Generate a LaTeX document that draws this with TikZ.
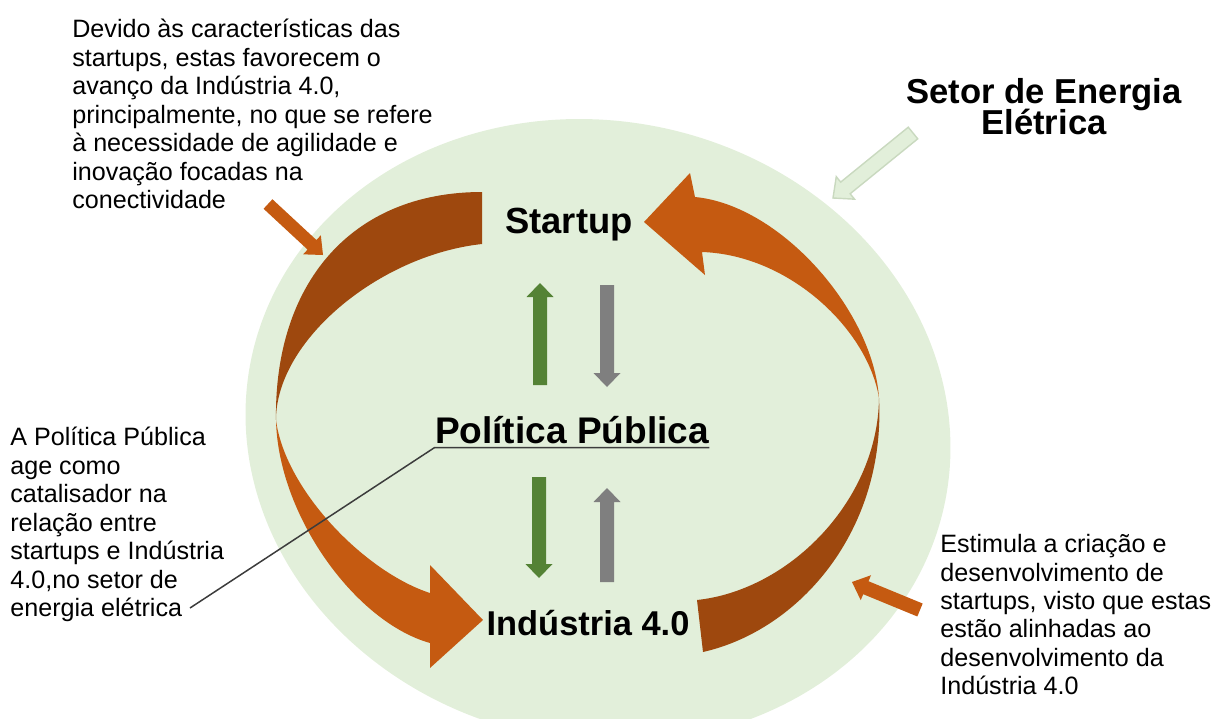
\documentclass[tikz,border=0pt]{standalone}
\usepackage{fontspec}
\setmainfont{Liberation Sans}
\usetikzlibrary{calc}

\definecolor{bggreen}{HTML}{E2EFDA}
\definecolor{rimgreen}{HTML}{C9D9BF}
\definecolor{ribbonlight}{HTML}{C55A11}
\definecolor{ribbondark}{HTML}{9E480E}
\definecolor{flowgreen}{HTML}{548235}
\definecolor{flowgrey}{HTML}{7F7F7F}
\definecolor{leadergrey}{HTML}{3C3C3C}

\tikzset{
  notetext/.style={font=\fontsize{14.3}{16.2}\selectfont, align=left, inner sep=0pt},
  bigtext/.style={font=\bfseries\fontsize{#1}{24}\selectfont, inner sep=0pt},
  leader/.style={draw=leadergrey, line width=0.85pt},
}

% block arrow: [style]{tail}{tip}{half shaft}{half head}{head length}
\newcommand{\blockarrow}[6][]{%
  \coordinate (ba-base) at ($(#3)!#6!(#2)$);
  \path[#1] ($(#2)!#4!90:(#3)$) -- ($(ba-base)!#4!90:(#3)$) -- ($(ba-base)!#5!90:(#3)$)
    -- (#3) -- ($(ba-base)!#5!-90:(#3)$) -- ($(ba-base)!#4!-90:(#3)$)
    -- ($(#2)!#4!-90:(#3)$) -- cycle;
}

\begin{document}
\begin{tikzpicture}[x=0.02cm, y=-0.02cm]
  \useasboundingbox (0,0) rectangle (1215,718);

  % sector background (slightly slanted ellipse)
  \fill[bggreen] plot[domain=0:360, samples=150, smooth, variable=\t]
    ({598+0.06*312*sin(\t)+352*cos(\t)}, {431+312*sin(\t)}) -- cycle;

  % left ribbon: startup -> industria
  \fill[ribbondark] (482,192) .. controls (350,192) and (274,285) .. (276,420)
    .. controls (276,340) and (380,255) .. (482,244) -- cycle;
  \fill[ribbonlight] (276,420) .. controls (278,515) and (355,622) .. (430,643)
    -- (430,668) -- (483,620) -- (430,565) -- (430,593)
    .. controls (365,572) and (285,490) .. (276,420) -- cycle;

  % right ribbon: industria -> startup
  \fill[ribbondark] (879,398) .. controls (886,530) and (800,630) .. (703,652)
    -- (697,600) .. controls (790,590) and (878,500) .. (879,398) -- cycle;
  \fill[ribbonlight] (879,398) .. controls (873,310) and (780,205) .. (695,197)
    -- (690,173) -- (644,222) -- (705,275) -- (702,252)
    .. controls (790,255) and (868,330) .. (879,398) -- cycle;

  % labels
  \node[bigtext=20.7, anchor=base] (startup) at (569,233) {Startup};
  \node[bigtext=21.1, anchor=base] (policy) at (572,443) {Política Pública};
  \node[bigtext=19.6, anchor=base] (industry) at (588,635) {Indústria 4.0};
  \node[font=\bfseries\fontsize{19.7}{16.4}\selectfont, align=center, inner sep=0pt,
    anchor=north] (sector) at (1044,78) {Setor de Energia\\[-2pt]Elétrica};

  % flows between the levels
  \coordinate (upA) at (540,385);  \coordinate (upB) at (540,283);
  \coordinate (dnA) at (607,285);  \coordinate (dnB) at (607,387);
  \coordinate (dnC) at (539,477);  \coordinate (dnD) at (539,578);
  \coordinate (upC) at (607,582);  \coordinate (upD) at (607,488);
  \blockarrow[fill=flowgreen]{upA}{upB}{0.14cm}{0.27cm}{0.28cm}
  \blockarrow[fill=flowgrey]{dnA}{dnB}{0.14cm}{0.27cm}{0.28cm}
  \blockarrow[fill=flowgreen]{dnC}{dnD}{0.14cm}{0.27cm}{0.28cm}
  \blockarrow[fill=flowgrey]{upC}{upD}{0.14cm}{0.27cm}{0.28cm}

  % notes
  \node[notetext, anchor=north west] (noteStartup) at (72,19) {Devido às características das\\
    startups, estas favorecem o\\avanço da Indústria 4.0,\\principalmente, no que se refere\\
    à necessidade de agilidade e\\inovação focadas na\\conectividade};
  \node[notetext, anchor=north west] (notePolicy) at (10,427) {A Política Pública\\age como\\
    catalisador na\\relação entre\\startups e Indústria\\4.0,no setor de\\energia elétrica};
  \node[notetext, anchor=north west] (noteIndustry) at (940,534) {Estimula a criação e\\
    desenvolvimento de\\startups, visto que estas\\estão alinhadas ao\\
    desenvolvimento da\\Indústria 4.0};

  % pointers from the notes
  \coordinate (ptA) at (268,204);  \coordinate (ptB) at (323,255);
  \coordinate (ptC) at (920,610);  \coordinate (ptD) at (852,582);
  \coordinate (ptE) at (913,133);  \coordinate (ptF) at (833,198);
  \blockarrow[fill=ribbonlight]{ptA}{ptB}{0.13cm}{0.26cm}{0.3cm}
  \blockarrow[fill=ribbonlight]{ptC}{ptD}{0.14cm}{0.27cm}{0.3cm}
  \blockarrow[fill=bggreen, draw=rimgreen, line width=0.8pt]{ptE}{ptF}{0.15cm}{0.29cm}{0.32cm}

  % callout line with underline
  \coordinate (leaderEnd) at (190,608);
  \draw[leader] (leaderEnd) -- ($(policy.base west)+(0,4.5)$) -- ($(policy.base east)+(0,4.5)$);
\end{tikzpicture}
\end{document}
